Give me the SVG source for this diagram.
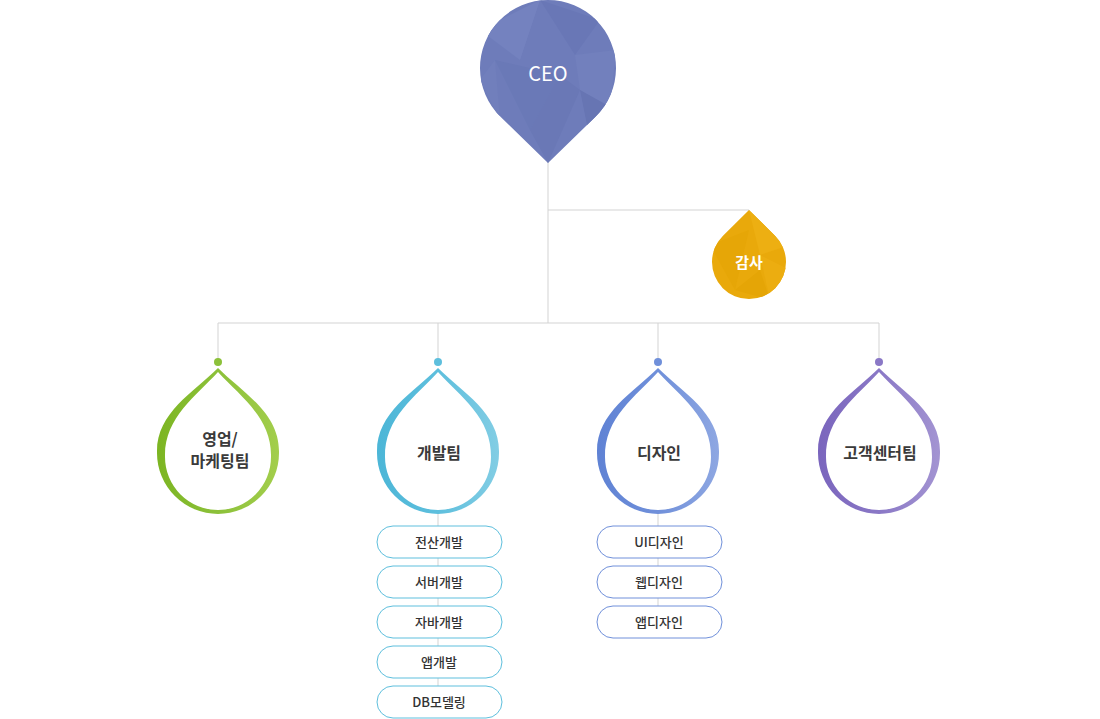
<svg xmlns="http://www.w3.org/2000/svg" xmlns:xlink="http://www.w3.org/1999/xlink" width="1100" height="719" viewBox="0 0 1100 719">
<style>
.ln{stroke:#d3d3d3;stroke-width:1;fill:none}
.lbl{font-family:"Noto Sans CJK KR","Noto Sans",sans-serif;font-size:16px;font-weight:700;fill:#3a3a3a;text-anchor:middle}
.sub{font-family:"Noto Sans CJK KR","Noto Sans",sans-serif;font-size:13px;font-weight:500;fill:#333;text-anchor:middle}
.box{fill:#fff;stroke-width:1}
.wt{font-family:"Noto Sans CJK KR","Noto Sans",sans-serif;fill:#fff;text-anchor:middle}
</style>
<defs>
<path id="dOut" d="M0,368 C-25,393 -62,413 -61,453 A61 61 0 0 0 61,453 C62,413 25,393 0,368 Z"/>
<path id="dIn" d="M0,372 C-22,396 -54,418 -53,457 A53 53 0 0 0 53,457 C54,418 22,396 0,372 Z"/>
<linearGradient id="gG" x1="0" y1="0" x2="1" y2="0"><stop offset="0" stop-color="#7cb522"/><stop offset="0.5" stop-color="#8cc13a"/><stop offset="1" stop-color="#a3ce4c"/></linearGradient>
<linearGradient id="gB" x1="0" y1="0" x2="1" y2="0"><stop offset="0" stop-color="#4cb6d7"/><stop offset="0.5" stop-color="#5ebfdd"/><stop offset="1" stop-color="#82cde4"/></linearGradient>
<linearGradient id="gD" x1="0" y1="0" x2="1" y2="0"><stop offset="0" stop-color="#5f82d4"/><stop offset="0.5" stop-color="#7090da"/><stop offset="1" stop-color="#8ea7e2"/></linearGradient>
<linearGradient id="gP" x1="0" y1="0" x2="1" y2="0"><stop offset="0" stop-color="#7a65bd"/><stop offset="0.5" stop-color="#8a78c6"/><stop offset="1" stop-color="#a394d2"/></linearGradient>
<clipPath id="cCeo"><path d="M548,163 L500.5,116.7 A68 68 0 1 1 595.5,116.7 Z"/></clipPath>
<clipPath id="cAud"><path d="M749,210 L775,235.7 A37 37 0 1 1 723,235.7 Z"/></clipPath>
</defs>

<g id="connectors">
<line class="ln" x1="548" y1="160" x2="548" y2="323"/>
<polyline class="ln" points="548,210 749,210 749,214"/>
<line class="ln" x1="218" y1="323" x2="879" y2="323"/>
<line class="ln" x1="218" y1="323" x2="218" y2="362"/>
<line class="ln" x1="438" y1="323" x2="438" y2="362"/>
<line class="ln" x1="658" y1="323" x2="658" y2="362"/>
<line class="ln" x1="879" y1="323" x2="879" y2="362"/>
<line class="ln" x1="438" y1="512" x2="438" y2="690"/>
<line class="ln" x1="658" y1="512" x2="658" y2="610"/>
</g>

<g id="ceo">
<path d="M548,163 L500.5,116.7 A68 68 0 1 1 595.5,116.7 Z" fill="#6e7cba"/>
<g clip-path="url(#cCeo)">
<polygon points="540,0 600,20 575,55" fill="#6977b6"/>
<polygon points="480,30 540,0 520,60" fill="#7482bf"/>
<polygon points="495,60 560,75 530,130" fill="#6a79b7"/>
<polygon points="575,55 616,50 610,110 580,90" fill="#7280bd"/>
<polygon points="560,75 580,90 548,163 530,130" fill="#6a78b6"/>
<polygon points="480,80 495,60 500,120" fill="#717fbc"/>
<polygon points="580,90 616,110 590,140" fill="#6775b3"/>
</g>
<text class="wt" x="548" y="81" font-size="20">CEO</text>
</g>

<g id="audit">
<path d="M749,210 L775,235.7 A37 37 0 1 1 723,235.7 Z" fill="#e9a90b"/>
<g clip-path="url(#cAud)">
<polygon points="749,210 790,245 760,255" fill="#edaf12"/>
<polygon points="710,245 749,230 735,290" fill="#e6a607"/>
<polygon points="760,255 790,270 770,300" fill="#ecad10"/>
<polygon points="735,290 760,270 770,300" fill="#e5a506"/>
</g>
<text class="wt" x="749" y="268" font-size="15" font-weight="700">감사</text>
</g>

<g id="sales">
<circle cx="218" cy="362" r="4" fill="#8cc13a"/>
<use xlink:href="#dOut" x="218" fill="url(#gG)"/>
<use xlink:href="#dIn" x="218" fill="#fff"/>
<text class="lbl" x="220" y="445">영업/</text>
<text class="lbl" x="220" y="467">마케팅팀</text>
</g>

<g id="dev">
<circle cx="438" cy="362" r="4" fill="#5ebfdd"/>
<use xlink:href="#dOut" x="438" fill="url(#gB)"/>
<use xlink:href="#dIn" x="438" fill="#fff"/>
<text class="lbl" x="439" y="459">개발팀</text>
</g>

<g id="design">
<circle cx="658" cy="362" r="4" fill="#7090da"/>
<use xlink:href="#dOut" x="658" fill="url(#gD)"/>
<use xlink:href="#dIn" x="658" fill="#fff"/>
<text class="lbl" x="659" y="459">디자인</text>
</g>

<g id="cs">
<circle cx="879" cy="362" r="4" fill="#8a78c6"/>
<use xlink:href="#dOut" x="879" fill="url(#gP)"/>
<use xlink:href="#dIn" x="879" fill="#fff"/>
<text class="lbl" x="880" y="459">고객센터팀</text>
</g>

<g id="dev-subs">
<g id="dev1"><rect class="box" x="377" y="526" width="125" height="32" rx="16" stroke="#5ebfdd"/><text class="sub" x="439" y="547">전산개발</text></g>
<g id="dev2"><rect class="box" x="377" y="566" width="125" height="32" rx="16" stroke="#5ebfdd"/><text class="sub" x="439" y="587">서버개발</text></g>
<g id="dev3"><rect class="box" x="377" y="606" width="125" height="32" rx="16" stroke="#5ebfdd"/><text class="sub" x="439" y="627">자바개발</text></g>
<g id="dev4"><rect class="box" x="377" y="646" width="125" height="32" rx="16" stroke="#5ebfdd"/><text class="sub" x="439" y="667">앱개발</text></g>
<g id="dev5"><rect class="box" x="377" y="686" width="125" height="32" rx="16" stroke="#5ebfdd"/><text class="sub" x="439" y="707">DB모델링</text></g>
</g>

<g id="design-subs">
<g id="des1"><rect class="box" x="597" y="526" width="125" height="32" rx="16" stroke="#7090da"/><text class="sub" x="659" y="547">UI디자인</text></g>
<g id="des2"><rect class="box" x="597" y="566" width="125" height="32" rx="16" stroke="#7090da"/><text class="sub" x="659" y="587">웹디자인</text></g>
<g id="des3"><rect class="box" x="597" y="606" width="125" height="32" rx="16" stroke="#7090da"/><text class="sub" x="659" y="627">앱디자인</text></g>
</g>
</svg>
